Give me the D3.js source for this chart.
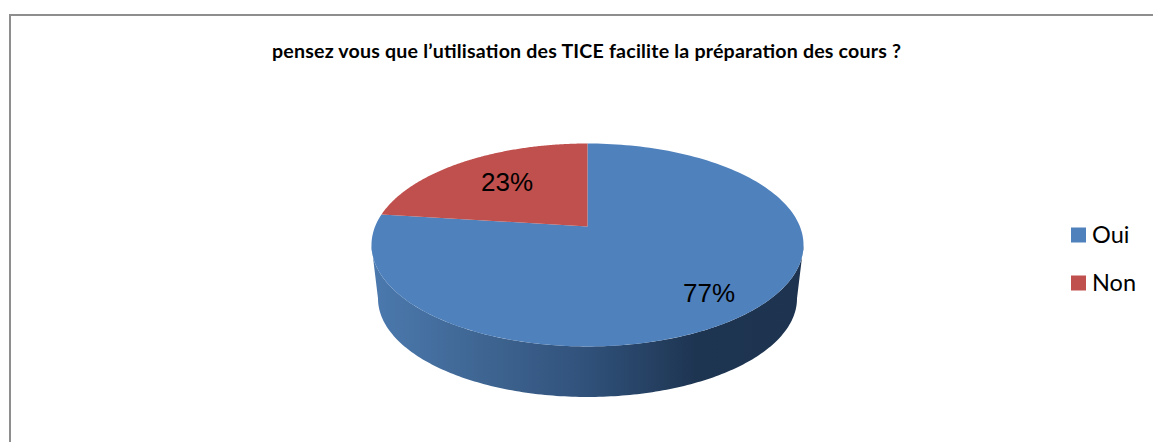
<!DOCTYPE html>
<html><head><meta charset="utf-8">
<script src="https://cdn.jsdelivr.net/npm/d3@7/dist/d3.min.js"></script>
<style>html,body{margin:0;padding:0;background:#fff;overflow:hidden}svg{display:block}</style>
</head><body><svg id="c" width="1153" height="442"></svg>
<script>
const categories = ["Oui", "Non"];
const values = [77, 23];
const colors = ["#4f81bd", "#c0504d"];
const chartTitle = "pensez vous que l’utilisation des TICE facilite la préparation des cours ?";

const svg = d3.select("#c");
svg.append("rect").attr("width",1153).attr("height",442).attr("fill","#fff");
svg.append("path").attr("d","M10 442V15H1153").attr("fill","none").attr("stroke","#8e8e8e").attr("stroke-width",2);

svg.append("text").attr("x",586.5).attr("y",58).attr("text-anchor","middle")
  .attr("font-family","Lato, 'Open Sans', sans-serif").attr("font-weight",700).attr("font-size",19.6)
  .attr("textLength",629).attr("lengthAdjust","spacing")
  .attr("fill","#000").text(chartTitle);

// perspective projection of a unit disc
const p = 0.182;
const project = (a, o) => {
  const u = Math.sin(a), v = -Math.cos(a), d = 1 - p * v;
  return [o.cx + o.kx * u / d, o.cy + o.ky * v / d];
};
const topDisc = {cx:587.5, cy:226.5, kx:212.4, ky:98.1};
const baseDisc = {cx:587.5, cy:280.6, kx:206, ky:95.2};
const line = d3.line();
const rim = (a0, a1, o) => d3.range(0, 181).map(i => project(a0 + (a1 - a0) * i / 180, o));

const defs = svg.append("defs");
const grad = defs.append("linearGradient").attr("id","side").attr("gradientUnits","userSpaceOnUse")
  .attr("x1",372).attr("x2",803).attr("y1",0).attr("y2",0);
[[0,"#4b79ae"],[.25,"#3f6693"],[.5,"#30517a"],[.75,"#1e3552"],[1,"#1d3350"]]
  .forEach(([o,c]) => grad.append("stop").attr("offset",o).attr("stop-color",c));

// side wall between the widest points of the top rim
const aR = Math.acos(-p), aL = 2 * Math.PI - aR;
svg.append("path")
  .attr("d", line([...rim(aR, aL, topDisc), ...rim(aL, aR, baseDisc)]) + "Z")
  .attr("fill","url(#side)");

// slices
const pie = d3.pie().sort(null)(values);
svg.append("g").selectAll("path").data(pie).join("path")
  .attr("d", d => line([[topDisc.cx, topDisc.cy], ...rim(d.startAngle, d.endAngle, topDisc)]) + "Z")
  .attr("fill", (d,i) => colors[i]);

// labels
const total = d3.sum(values);
const labelPos = [[709,293],[507,181.5]];
svg.append("g").selectAll("text").data(pie).join("text")
  .attr("x",(d,i)=>labelPos[i][0]).attr("y",(d,i)=>labelPos[i][1])
  .attr("dy","0.36em").attr("text-anchor","middle")
  .attr("font-family","'Liberation Sans', Arial, sans-serif").attr("font-size",26).attr("fill","#000")
  .text(d => Math.round(d.value / total * 100) + "%");

// legend
const legendY = d3.scalePoint().domain(categories).range([235,283]);
const lg = svg.append("g").selectAll("g").data(categories).join("g");
lg.append("rect").attr("x",1071).attr("y",d=>legendY(d)-7.5).attr("width",15).attr("height",15)
  .attr("fill",(d,i)=>colors[i]);
lg.append("text").attr("x",1092).attr("y",d=>legendY(d)+8)
  .attr("font-family","Lato, 'Open Sans', sans-serif").attr("font-size",23.5).attr("fill","#000").text(d=>d);
</script></body></html>
